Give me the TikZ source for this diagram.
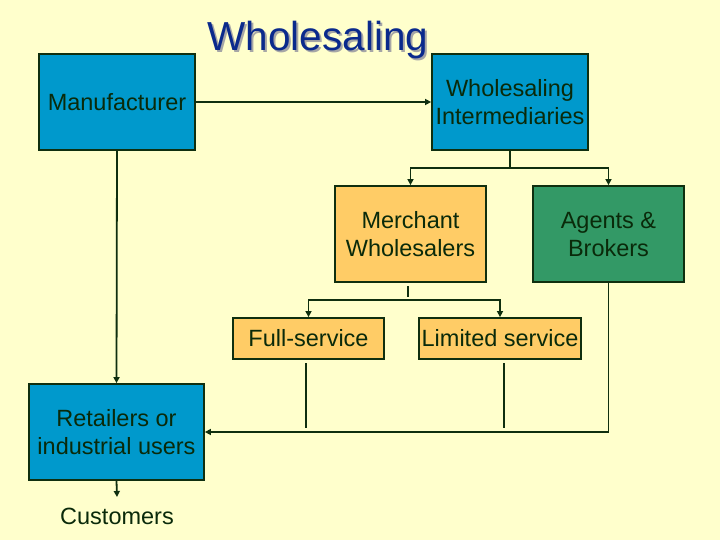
\documentclass[tikz,border=0pt]{standalone}
\usepackage{fontspec}
\setmainfont{Liberation Sans}
\usetikzlibrary{arrows.meta}
\definecolor{bg}{HTML}{FFFFCC}
\definecolor{ln}{HTML}{0F2F0F}
\definecolor{bluebox}{HTML}{0099CC}
\definecolor{orbox}{HTML}{FFCC66}
\definecolor{grbox}{HTML}{339966}
\definecolor{txt}{HTML}{0A2A0A}
\definecolor{ttl}{HTML}{0A2A8C}
\tikzset{
  box/.style={draw=ln, line width=1.8pt, text=txt, font=\fontsize{23.5}{28}\selectfont, align=center, inner sep=0pt},
  arr/.style={draw=ln, line width=1.8pt, -{Triangle[length=6pt,width=6pt]}},
  ln/.style={draw=ln, line width=1.8pt},
}
\begin{document}
\begin{tikzpicture}[x=1pt,y=-1pt]
\fill[bg] (0,0) rectangle (720,540);
\useasboundingbox (0,0) rectangle (720,540);
\node[text=ttl, font=\fontsize{40.5}{44}\selectfont] (title) at (318,41) {\makebox[0pt][l]{\hspace{2pt}\raisebox{-2pt}{\color{gray!70}Wholesaling}}Wholesaling};
\node[box, fill=bluebox, minimum width=156pt, minimum height=96pt] (mf) at (117,102) {Manufacturer};
\node[box, fill=bluebox, minimum width=156pt, minimum height=96pt] (wi) at (510,102) {Wholesaling\\Intermediaries};
\node[box, fill=orbox, minimum width=151pt, minimum height=96pt] (mw) at (410.5,234) {Merchant\\Wholesalers};
\node[box, fill=grbox, minimum width=151pt, minimum height=96pt] (ab) at (608.5,234) {Agents \&\\Brokers};
\node[box, fill=orbox, minimum width=151pt, minimum height=41pt] (fs) at (308.5,338.5) {Full-service};
\node[box, fill=orbox, minimum width=162pt, minimum height=41pt] (ls) at (500,338.5) {Limited service};
\node[box, fill=bluebox, minimum width=175pt, minimum height=96pt] (rt) at (116.5,432) {Retailers or\\industrial users};
\node[text=txt, font=\fontsize{23.5}{28}\selectfont, inner sep=0pt, anchor=north] (cu) at (117,508) {Customers};
\coordinate (wb) at (510,168);
\coordinate (ms1) at (408,286);
\coordinate (ms2) at (408,297);
\coordinate (mh) at (408,300);
\coordinate (f1) at (306,363);
\coordinate (f2) at (306,428);
\coordinate (l1) at (504,363);
\coordinate (l2) at (504,428);
\coordinate (ce) at (117,497);
\draw[arr] (mf.east) -- (wi.west);
\draw[arr] (mf.south) -- (rt.north);
\draw[ln] (wi.south) -- (wb);
\draw[arr] (wb) -| (mw.north);
\draw[arr] (wb) -| (ab.north);
\draw[ln] (ms1) -- (ms2);
\draw[arr] (mh) -| (fs.north);
\draw[arr] (mh) -| (ls.north);
\draw[ln] (f1) -- (f2);
\draw[ln] (l1) -- (l2);
\draw[arr] (ab.south) |- (rt.east);
\draw[arr] (rt.south) -- (ce);
\end{tikzpicture}
\end{document}
